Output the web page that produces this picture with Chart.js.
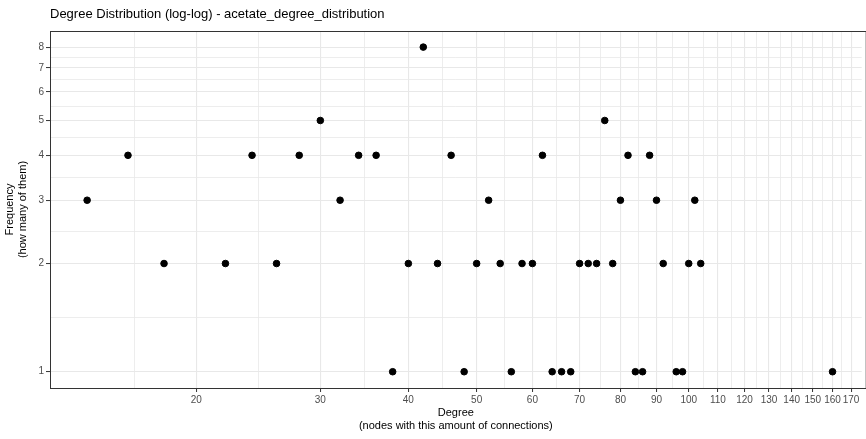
<!DOCTYPE html>
<html>
<head>
<meta charset="utf-8">
<script src="https://cdn.jsdelivr.net/npm/chart.js@4"></script>
<style>
  body { margin: 0; background: #fff; }
  #wrap { width: 866px; height: 439px; }
</style>
</head>
<body>
<div id="wrap"><canvas id="chart"></canvas></div>
<script>
'use strict';

// data
const degrees = [14, 16, 18, 22, 24, 26, 28, 30, 32, 34, 36, 38, 40, 42, 44, 46, 48, 50, 52, 54,
  56, 58, 60, 62, 64, 66, 68, 70, 72, 74, 76, 78, 80, 82, 84, 86, 88, 90, 92, 96, 98, 100, 102, 104, 160];
const frequencies = [3, 4, 2, 2, 4, 2, 4, 5, 3, 4, 4, 1, 2, 8, 2, 4, 1, 2, 3, 2,
  1, 2, 2, 4, 1, 1, 1, 2, 2, 2, 5, 2, 3, 4, 1, 1, 4, 3, 2, 1, 1, 2, 3, 2, 1];

const xTickLabels = [20, 30, 40, 50, 60, 70, 80, 90, 100, 110, 120, 130, 140, 150, 160, 170];
const yTickLabels = [1, 2, 3, 4, 5, 6, 7, 8];

const FONT = "'Liberation Sans', Arial, Helvetica, sans-serif";

// minor grid like ggplot: midpoints (in log space) between breaks, extended one step at each end
function minorBreaks(breaks) {
  const b = breaks.map(v => Math.log10(v));
  const bd = b[1] - b[0];
  const ext = [b[0] - bd, ...b, b[b.length - 1] + bd];
  const out = [];
  for (let i = 0; i < ext.length - 1; i++) {
    out.push(Math.pow(10, (ext[i] + ext[i + 1]) / 2));
  }
  return out;
}

function setTicks(scale, majors) {
  const all = majors.concat(minorBreaks(majors))
    .filter(v => v >= scale.min && v <= scale.max)
    .sort((a, b) => a - b);
  scale.ticks = all.map(v => ({ value: v }));
}

const isMajor = (list, v) => list.some(m => Math.abs(m - v) < 1e-9);

const borderPlugin = {
  id: 'panelBorder',
  afterDatasetsDraw(chart) {
    const { ctx, chartArea: a } = chart;
    ctx.save();
    ctx.strokeStyle = '#333333';
    ctx.lineWidth = 1;
    ctx.strokeRect(Math.round(a.left) + 0.5, Math.round(a.top) + 0.5,
      a.right - a.left + 4, a.bottom - a.top);
    ctx.restore();
  }
};

function renderChart() {
  const ctx = document.getElementById('chart').getContext('2d');

  const points = degrees.map((d, i) => ({ x: d, y: frequencies[i] }));

  new Chart(ctx, {
    type: 'scatter',
    data: {
      datasets: [{
        data: points,
        backgroundColor: '#000000',
        borderColor: '#000000',
        pointRadius: 3.3,
        pointHoverRadius: 3.3
      }]
    },
    options: {
      responsive: true,
      maintainAspectRatio: false,
      animation: false,
      layout: { padding: 0 },
      plugins: {
        legend: { display: false },
        tooltip: { enabled: false },
        title: {
          display: true,
          text: 'Degree Distribution (log-log) - acetate_degree_distribution',
          align: 'start',
          fullSize: false,
          color: '#000000',
          font: { family: FONT, size: 13, weight: 'normal' },
          padding: { top: 7, bottom: 8.4 }
        }
      },
      scales: {
        x: {
          type: 'logarithmic',
          min: 12.4,
          max: 176,
          afterBuildTicks: s => setTicks(s, xTickLabels),
          afterFit: s => { s.height = 51; s.paddingLeft = 0; s.paddingRight = 0; },
          border: { display: false },
          grid: {
            color: '#E8E8E8',
            lineWidth: c => (c.tick && isMajor(xTickLabels, c.tick.value)) ? 1.1 : 0.8,
            tickLength: 4,
            tickWidth: 1,
            tickColor: c => (c.tick && isMajor(xTickLabels, c.tick.value)) ? '#333333' : 'rgba(0,0,0,0)'
          },
          ticks: {
            autoSkip: false,
            maxRotation: 0,
            minRotation: 0,
            padding: 2,
            color: '#4D4D4D',
            font: { family: FONT, size: 10 },
            callback: v => isMajor(xTickLabels, v) ? String(Math.round(v)) : ''
          },
          title: {
            display: true,
            text: ['Degree', '(nodes with this amount of connections)'],
            color: '#000000',
            font: { family: FONT, size: 11 },
            padding: { top: 0, bottom: 6.4 }
          }
        },
        y: {
          type: 'logarithmic',
          min: 0.901,
          max: 8.87,
          afterBuildTicks: s => setTicks(s, yTickLabels),
          afterFit: s => { s.width = 50; s.paddingTop = 0; s.paddingBottom = 0; },
          border: { display: false },
          grid: {
            color: '#E8E8E8',
            lineWidth: c => (c.tick && isMajor(yTickLabels, c.tick.value)) ? 1.1 : 0.8,
            tickLength: 4,
            tickWidth: 1,
            tickColor: c => (c.tick && isMajor(yTickLabels, c.tick.value)) ? '#333333' : 'rgba(0,0,0,0)'
          },
          ticks: {
            autoSkip: false,
            padding: 2,
            color: '#4D4D4D',
            font: { family: FONT, size: 10 },
            callback: v => isMajor(yTickLabels, v) ? String(Math.round(v)) : ''
          },
          title: {
            display: true,
            text: ['Frequency', '(how many of them)'],
            color: '#000000',
            font: { family: FONT, size: 11 },
            padding: { top: 3.4, bottom: 0 }
          }
        }
      }
    },
    plugins: [borderPlugin]
  });
}

renderChart();
</script>
</body>
</html>
